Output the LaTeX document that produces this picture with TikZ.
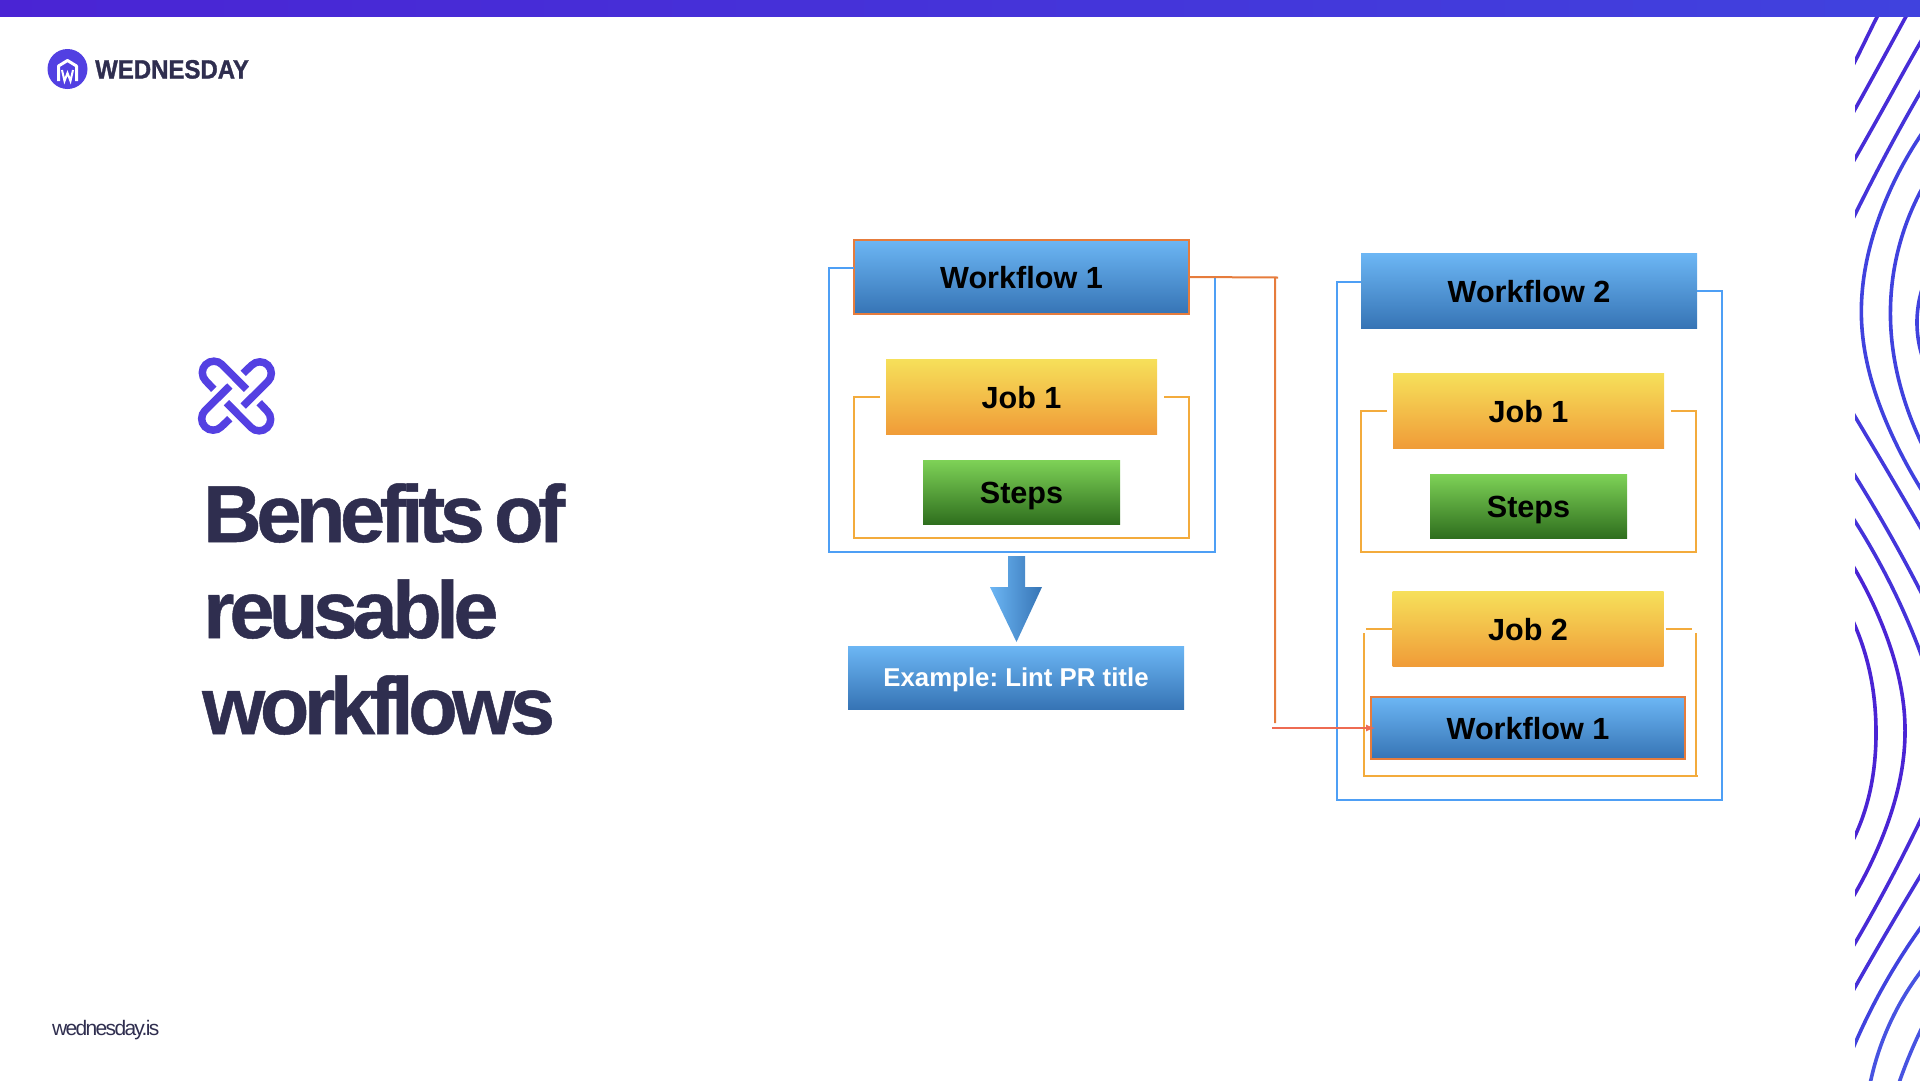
\documentclass[tikz,border=0pt]{standalone}
\usepackage{fontspec}
\setmainfont{Liberation Sans}
\newfontfamily\titlefont[LetterSpace=-6.7,WordSpace=0.55,FakeBold=0.6]{Liberation Sans Bold}
\newfontfamily\footfont[LetterSpace=-8]{Liberation Sans}
\newfontfamily\logofont[FakeStretch=0.905,FakeBold=1.2]{Liberation Sans Bold}
\usetikzlibrary{arrows,calc,hobby}
\definecolor{barleft}{HTML}{4A24D4}
\definecolor{barright}{HTML}{4042DE}
\definecolor{inkdark}{HTML}{2F2E4F}
\definecolor{markblue}{HTML}{5440E2}
\definecolor{blueup}{HTML}{6CB6F4}
\definecolor{bluedown}{HTML}{3674B5}
\definecolor{yellowup}{HTML}{F6E05A}
\definecolor{yellowdown}{HTML}{F09B38}
\definecolor{greenup}{HTML}{7ED257}
\definecolor{greendown}{HTML}{2F6F1E}
\definecolor{bluewire}{HTML}{4E9FF5}
\definecolor{jobwire}{HTML}{F3AB3C}
\definecolor{orangewire}{HTML}{E67C3C}
\definecolor{redwire}{HTML}{EE6B52}

\begin{document}
\frenchspacing
\begin{tikzpicture}[x=1pt,y=-1pt]
\tikzstyle{box}=[inner sep=0pt,outer sep=0pt,font=\bfseries\fontsize{30.6}{36}\selectfont,text=black,text height=22pt,text depth=0pt]
\tikzstyle{flow}=[box,top color=blueup,bottom color=bluedown]
\tikzstyle{marked}=[flow,draw=orangewire,line width=2.5pt]
\tikzstyle{job}=[box,top color=yellowup,bottom color=yellowdown,minimum width=271pt,minimum height=75.5pt]
\tikzstyle{steps}=[box,top color=greenup,bottom color=greendown,minimum width=197pt,minimum height=64pt]
\tikzstyle{bluelink}=[draw=bluewire,line width=2pt]
\tikzstyle{joblink}=[draw=jobwire,line width=2pt]
\tikzstyle{wave}=[line width=3.6pt,use Hobby shortcut]
\useasboundingbox (0,0) rectangle (1920,1080);

% right hand waves
\begin{scope}
\clip (1855,16) rectangle (1920,1080);
\draw[wave,color=barleft!80!barright] (1845,80) .. (1855.7,60) .. (1877,17) .. (1885,2);
\draw[wave,color=barleft!80!barright] (1845,127) .. (1855.7,108) .. (1905.7,17) .. (1915,0);
\draw[wave,color=barleft!70!barright] (1845,176) .. (1888,100) .. (1920,43) .. (1930,26);
\draw[wave,color=barleft!50!barright] (1845,235) .. (1885,156) .. (1920,93) .. (1930,76);
\draw[wave,color=barright] (1930,122) .. (1883,207) .. (1861.5,320) .. (1892,435) .. (1930,503);
\draw[wave,color=barright] (1930,175) .. (1903,233) .. (1890.5,320) .. (1920,440) .. (1930,460);
\draw[wave,color=barright] (1930,270) .. (1917,320) .. (1930,375);
\draw[wave,color=barleft!30!barright] (1845,400) .. (1888,472) .. (1930,544);
\draw[wave,color=barleft!40!barright] (1845,460) .. (1893,540) .. (1930,610);
\draw[wave,color=barleft!50!barright] (1845,506) .. (1890,583) .. (1930,680);
\draw[wave,color=barleft] (1845,553) .. (1883,627) .. (1905,727) .. (1880,843) .. (1845,910);
\draw[wave,color=barleft] (1845,605) .. (1870,673) .. (1876,730) .. (1865,810) .. (1845,855);
\draw[wave,color=barleft!80!barright] (1930,800) .. (1897,867) .. (1845,960);
\draw[wave,color=barleft!60!barright] (1930,860) .. (1888,930) .. (1845,1005);
\draw[wave,color=barright] (1930,915) .. (1883,987) .. (1845,1068);
\draw[wave,color=barright!85!blueup] (1930,960) .. (1890,1023) .. (1868,1095);
\draw[wave,color=barright!85!blueup] (1930,1012) .. (1900,1080) .. (1895,1095);
\end{scope}
\shade[left color=barleft,right color=barright] (0,0) rectangle (1920,16);

% logo
\fill[markblue!90!barright] (67.5,69) circle (20);
\draw[white,line width=3pt,line join=round] (58.5,81) -- (58.5,66) -- (67.5,60.5) -- (76.5,66) -- (76.5,81);
\draw[white,line width=2pt] (62,70) -- (64.5,81) -- (67.5,73) -- (70.5,81) -- (73,70);
\node[anchor=base west,inner sep=0pt,text=inkdark,font=\logofont\fontsize{26.5}{30}\selectfont] (brand) at (95,78.5) {WEDNESDAY};

% linked mark
\foreach \ang in {0,90,180,270} {
  \begin{scope}[shift={(236.5,396)},rotate=\ang]
  \draw[markblue,line width=7.5pt] (6.7,-22.7) -- (15.2,-30.8) arc[start angle=225,end angle=405,radius=11.5] -- (6.7,10);
  \end{scope}
}

% title
\node[anchor=base west,inner sep=0pt,text=inkdark,font=\titlefont\fontsize{81}{96}\selectfont] (titlea) at (203,542) {Benefits of};
\node[anchor=base west,inner sep=0pt,text=inkdark,font=\titlefont\fontsize{81}{96}\selectfont] (titleb) at (203,638) {reusable};
\node[anchor=base west,inner sep=0pt,text=inkdark,font=\titlefont\fontsize{81}{96}\selectfont] (titlec) at (202,734) {workflows};
\node[anchor=base west,inner sep=0pt,text=inkdark,font=\footfont\fontsize{21}{25}\selectfont] (site) at (52,1035) {wednesday.is};

% left workflow
\node[marked,minimum width=335pt,minimum height=74pt] (wfa) at (1021.5,277) {Workflow 1};
\node[job] (joba) at (1021.5,397) {Job 1};
\node[steps] (stepsa) at (1021.5,492) {Steps};
\node[flow,minimum width=336pt,minimum height=63pt,text=white,font=\bfseries\fontsize{25.8}{30}\selectfont,text height=18.5pt] (lint) at (1016,677.5) {Example: Lint PR title};
\path[left color=blueup,right color=bluedown] (1008,556) -- (1025,556) -- (1025,587) -- (1042,587) -- (1016.5,642) -- (990,587) -- (1008,587) -- cycle;

% right workflow
\node[flow,minimum width=336pt,minimum height=75pt] (wfb) at (1529,291) {Workflow 2};
\node[job] (jobb) at (1528.5,411) {Job 1};
\node[steps] (stepsb) at (1528.5,506) {Steps};
\node[job] (jobc) at (1528,629) {Job 2};
\node[marked,minimum width=314pt,minimum height=62pt] (wfc) at (1528,728) {Workflow 1};

\coordinate (bendstub) at (1278,277.5);
\coordinate (bendtop) at (1275,277.5);
\coordinate (bendlow) at (1275,723);

% brackets
\draw[bluelink] ([yshift=9pt]wfa.west) -- (829,268) -- (829,552) -- (1215,552) -- (1215,277) -- (wfa.east);
\draw[joblink] ([xshift=-6pt]joba.west) -- (854,397) -- (854,538) -- (1189,538) -- (1189,397) -- ([xshift=7pt]joba.east);
\draw[bluelink] ([yshift=9pt]wfb.west) -- (1337,282) -- (1337,800) -- (1722,800) -- (1722,291) -- (wfb.east);
\draw[joblink] ([xshift=-6pt]jobb.west) -- (1361,411) -- (1361,552) -- (1696,552) -- (1696,411) -- ([xshift=7pt]jobb.east);
\draw[joblink] ([xshift=-1pt]jobc.west) -- (1366,629);
\draw[joblink] ([xshift=2pt]jobc.east) -- (1692,629);
\draw[joblink] (1363.5,633) -- (1363.5,776) -- (1698,776);
\draw[joblink] (1695.5,776) -- (1695.5,633);

% reuse link
\draw[draw=orangewire,line width=2pt] (wfa.east) -- (bendstub) (bendtop) -- (bendlow);
\draw[draw=redwire,line width=2pt,-latex] (1272,728) -- ([xshift=4pt]wfc.west);
\end{tikzpicture}
\end{document}
